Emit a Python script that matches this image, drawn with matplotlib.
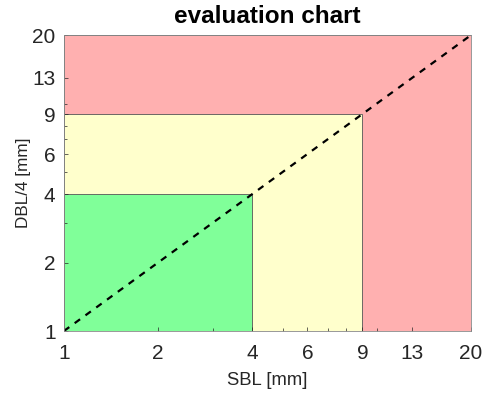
import matplotlib
matplotlib.use("Agg")
import matplotlib.pyplot as plt
from matplotlib.patches import Rectangle

plt.rcParams['font.family'] = ['Liberation Sans', 'DejaVu Sans']

axis_min = 1
zone_limits = [20, 9, 4]
zone_colors = ['#FFB0B0', '#FFFFCC', '#80FF99']
tick_values = [1, 2, 4, 6, 9, 13, 20]
tick_labels = ['1', '2', '4', '6', '9', '13', '20']
minor_values = [3, 5, 7, 8, 10]
diag_x = [1, 20]
diag_y = [1, 20]

fig = plt.figure(figsize=(4.84, 3.95), dpi=100)
ax = fig.add_axes([0.132, 0.162, 0.841, 0.749])
ax.set_xscale('log')
ax.set_yscale('log')

for lim, col in zip(zone_limits, zone_colors):
    ax.add_patch(Rectangle((axis_min, axis_min), lim - axis_min, lim - axis_min,
                           facecolor=col, edgecolor='#555555', linewidth=0.6, zorder=1))

ax.plot(diag_x, diag_y, 'k--', linewidth=1.6, dashes=(3, 3), zorder=3)

ax.set_xlim(1, 20)
ax.set_ylim(1, 20)
ax.set_xticks(tick_values)
ax.set_xticklabels(tick_labels)
ax.set_yticks(tick_values)
ax.set_yticklabels(tick_labels)
ax.set_xticks(minor_values, minor=True)
ax.set_yticks(minor_values, minor=True)
ax.set_xticklabels([], minor=True)
ax.set_yticklabels([], minor=True)
ax.tick_params(which='major', direction='in', length=3, width=0.5, colors='#262626',
               labelsize=15, top=False, right=False)
ax.tick_params(which='minor', direction='in', length=2, width=0.5, colors='#262626',
               top=False, right=False)
ax.tick_params(axis='x', which='major', pad=9)
ax.tick_params(axis='y', which='major', pad=6)
for s in ax.spines.values():
    s.set_color('#888888')
    s.set_linewidth(0.6)
    s.set_zorder(4)

ax.set_xlabel('SBL [mm]', fontsize=13.3, color='#262626', labelpad=7)
ax.set_ylabel('DBL/4 [mm]', fontsize=12.3, color='#262626', labelpad=1)
ax.set_title('evaluation chart', fontsize=17.5, fontweight='bold', color='#000000', pad=9)

fig.savefig('out.png', dpi=100)
